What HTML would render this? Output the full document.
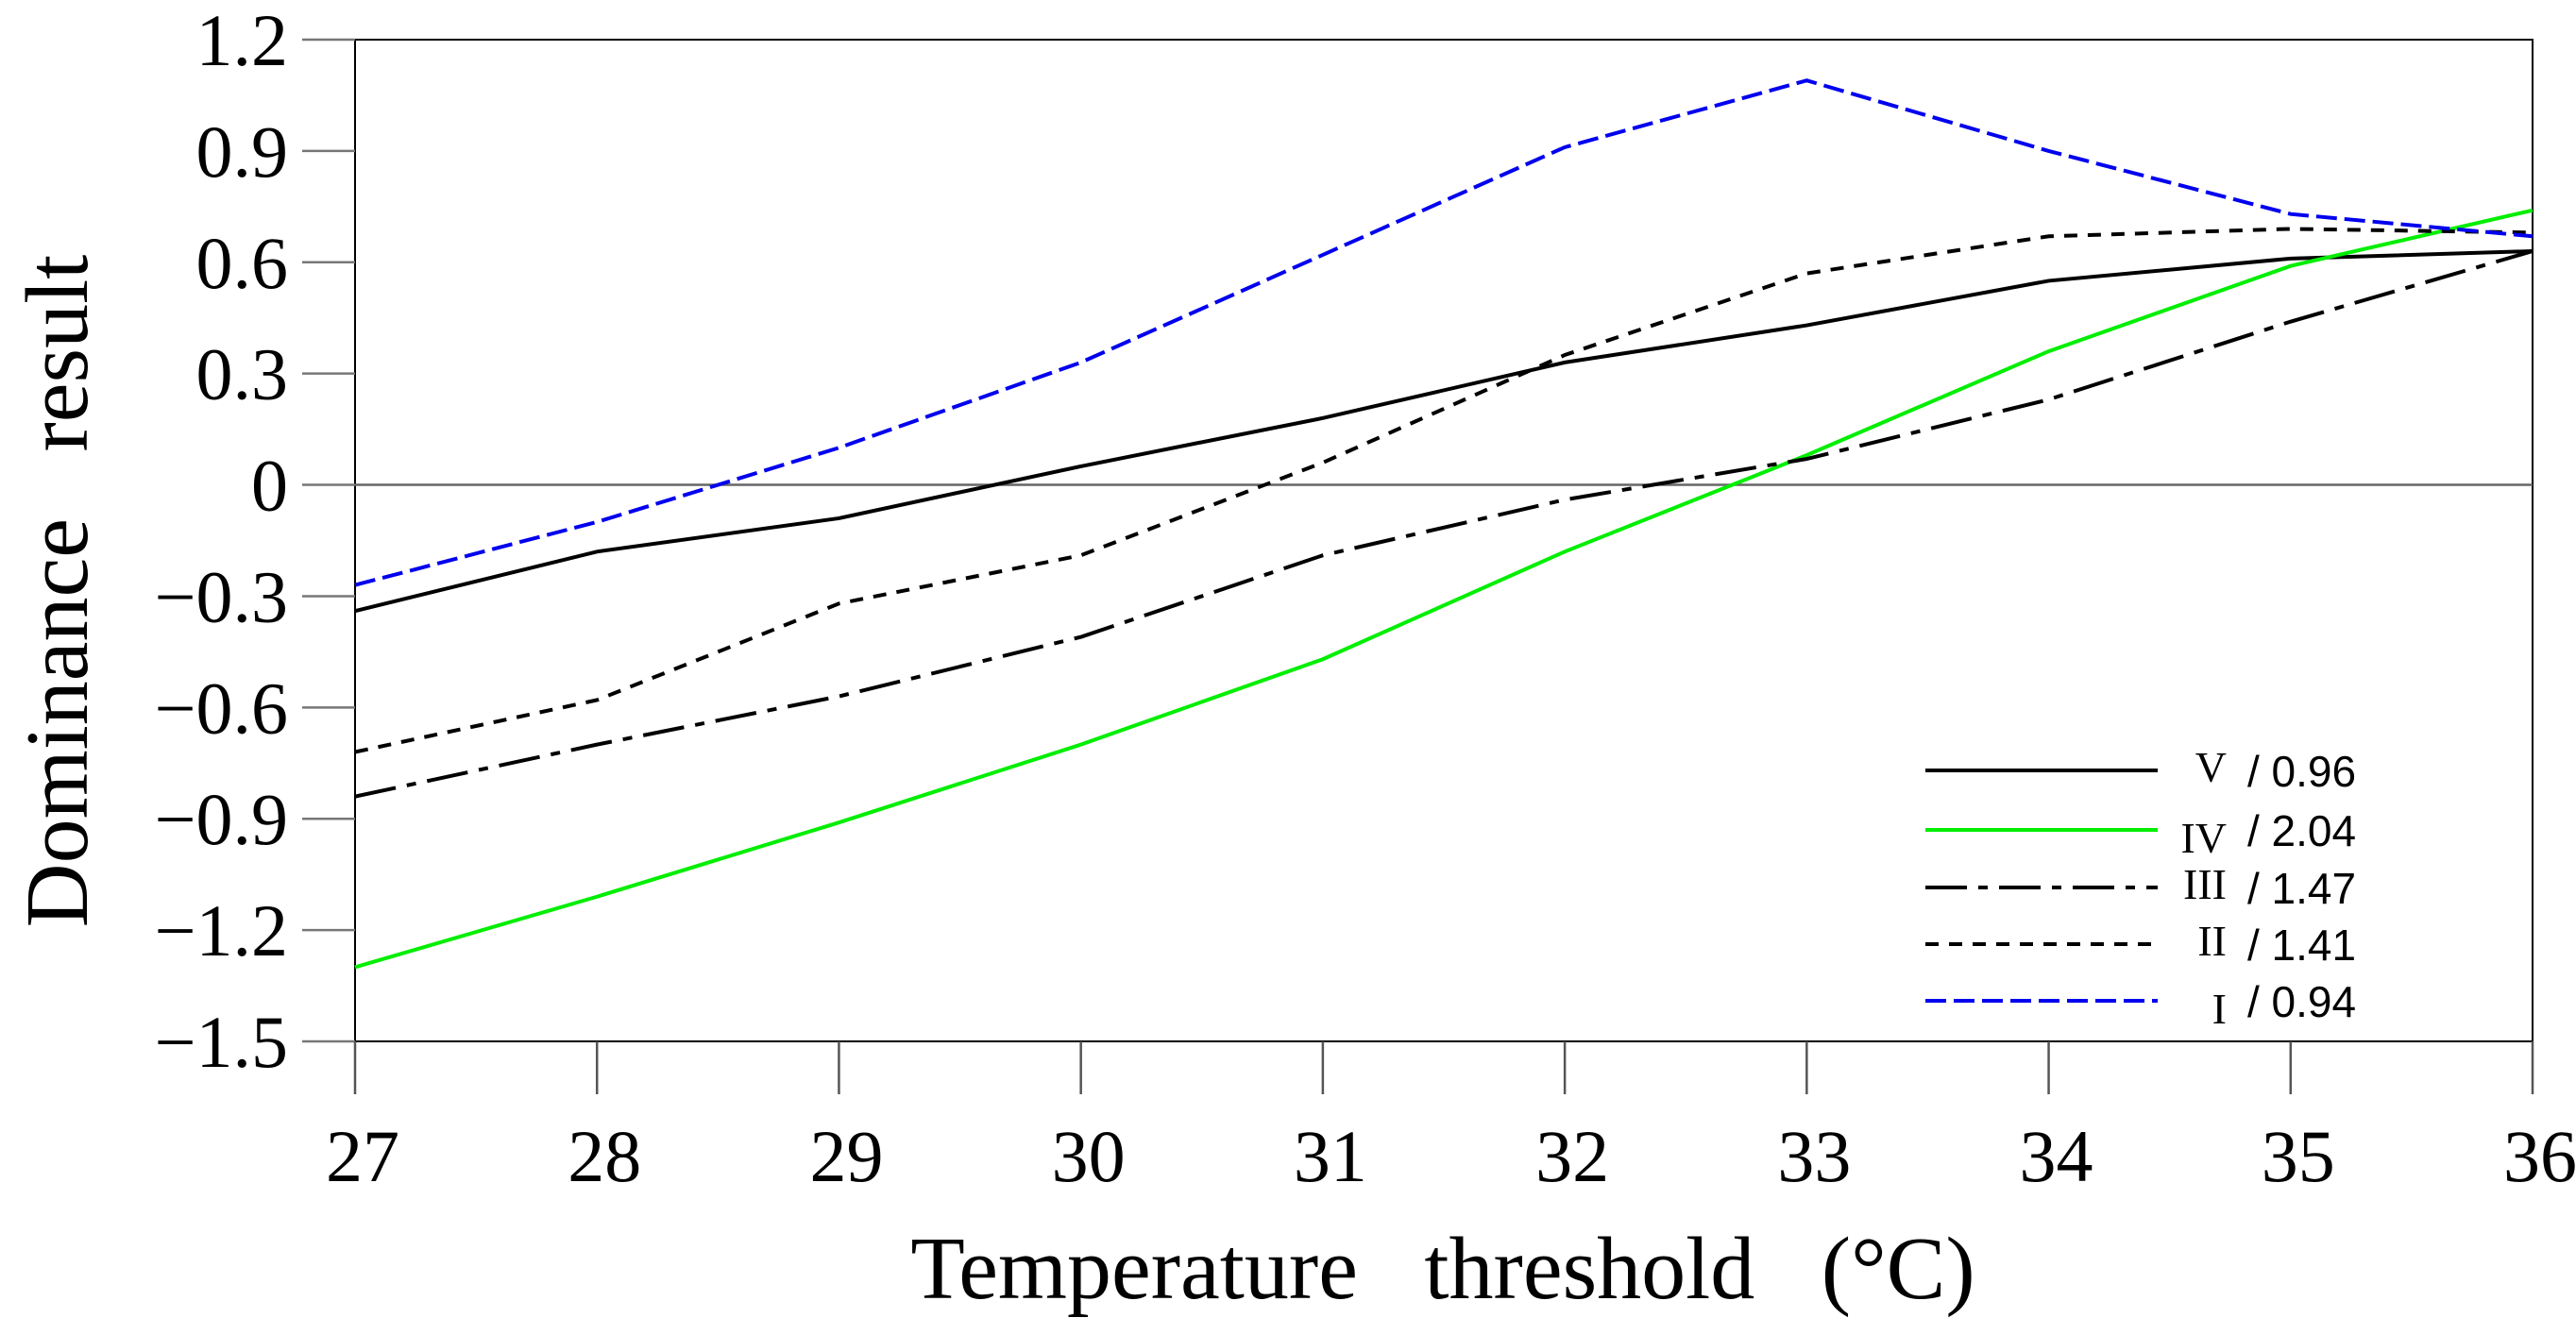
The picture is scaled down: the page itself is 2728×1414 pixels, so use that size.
<!DOCTYPE html>
<html><head><meta charset="utf-8"><style>
html,body{margin:0;padding:0;background:#fff;}
svg{display:block;}
</style></head><body>
<svg id="chart" width="2728" height="1414" viewBox="0 0 2728 1414" xmlns="http://www.w3.org/2000/svg">
<g id="axes"></g>
<g id="series"></g>
<g id="legend"></g>
<text transform="translate(92,626) rotate(-90)" text-anchor="middle" font-family="Liberation Serif, serif" font-size="94" fill="#000">Dominance&#160;&#160;&#160;result</text>
<text x="1528" y="1375" text-anchor="middle" font-family="Liberation Serif, serif" font-size="94" fill="#000">Temperature&#160;&#160;&#160;threshold&#160;&#160;&#160;(°C)</text>
</svg>
<script>
const categories = [27,28,29,30,31,32,33,34,35,36];
const yTicks = [1.2,0.9,0.6,0.3,0,-0.3,-0.6,-0.9,-1.2,-1.5];
const yTickLabels = ["1.2","0.9","0.6","0.3","0","\u22120.3","\u22120.6","\u22120.9","\u22121.2","\u22121.5"];
const seriesV = [-0.34,-0.18,-0.09,0.05,0.18,0.33,0.43,0.55,0.61,0.63];
const seriesIV = [-1.30,-1.11,-0.91,-0.70,-0.47,-0.18,0.08,0.36,0.59,0.74];
const seriesIII = [-0.84,-0.70,-0.57,-0.41,-0.19,-0.04,0.07,0.23,0.44,0.63];
const seriesII = [-0.72,-0.58,-0.32,-0.19,0.06,0.35,0.57,0.67,0.69,0.68];
const seriesI = [-0.27,-0.10,0.10,0.33,0.62,0.91,1.09,0.90,0.73,0.67];
const legendNames = ["V","IV","III","II","I"];
const legendValues = ["/ 0.96","/ 2.04","/ 1.47","/ 1.41","/ 0.94"];

const NS="http://www.w3.org/2000/svg";
const L=376,R=2682,T=42,B=1103;
const xs=v=>L+(v-27)/(36-27)*(R-L);
const ys=v=>T+(1.2-v)/(1.2+1.5)*(B-T);
function mk(tag,parent,attrs){const e=document.createElementNS(NS,tag);for(const k in attrs)e.setAttribute(k,attrs[k]);parent.appendChild(e);return e;}
const ax=document.getElementById('axes');
let r=mk('rect',ax,{x:L,y:T,width:R-L,height:B-T,fill:'none',stroke:'#000','stroke-width':2});


let z=mk('line',ax,{x1:L,x2:R,y1:ys(0),y2:ys(0),stroke:'#666','stroke-width':2.5});


yTicks.forEach((t,i)=>{
  let l=mk('line',ax,{x1:L-56,x2:L,y1:ys(t),y2:ys(t),stroke:'#777','stroke-width':2.5});
  
  
  let tx=mk('text',ax,{x:305,y:ys(t)+27,'text-anchor':'end','font-family':'Liberation Serif, serif','font-size':78,fill:'#000'});
  tx.textContent=yTickLabels[i];
  
  
});
categories.forEach(c=>{
  let l=mk('line',ax,{x1:xs(c),x2:xs(c),y1:B,y2:B+56,stroke:'#555','stroke-width':2.5});
  
  
  let tx=mk('text',ax,{x:xs(c)+8,y:1251,'text-anchor':'middle','font-family':'Liberation Serif, serif','font-size':78,fill:'#000'});
  tx.textContent=String(c);
  
  
});
const styles=[
  {data:seriesV,color:'#000',dash:'',name:'series-v'},
  {data:seriesIV,color:'#00ee00',dash:'',name:'series-iv'},
  {data:seriesIII,color:'#000',dash:'44 12 10 12',name:'series-iii'},
  {data:seriesII,color:'#000',dash:'14 11',name:'series-ii'},
  {data:seriesI,color:'#0000ee',dash:'22 8',name:'series-i'}
];
const sg=document.getElementById('series');
styles.forEach(s=>{
  const pts=s.data.map((v,i)=>xs(categories[i])+','+ys(v)).join(' ');
  let p=mk('polyline',sg,{points:pts,fill:'none',stroke:s.color,'stroke-width':4,'stroke-dasharray':s.dash});
  
  
});
const lg=document.getElementById('legend');
const rowsY=[816,879,940,1000,1060];
styles.forEach((s,i)=>{
  let l=mk('line',lg,{x1:2039,x2:2285,y1:rowsY[i],y2:rowsY[i],stroke:s.color,'stroke-width':4,'stroke-dasharray':s.dash});
  
  
  let t1=mk('text',lg,{x:2358,y:rowsY[i]+(i==1||i==4?24:12),'text-anchor':'end','font-family':'Liberation Serif, serif','font-size':46,fill:'#000'});
  t1.textContent=legendNames[i];
  
  
  let t2=mk('text',lg,{x:2380,y:rowsY[i]+17,'font-family':'Liberation Sans, sans-serif','font-size':46,fill:'#000'});
  t2.textContent=legendValues[i];
  
  
});
</script>
</body></html>
